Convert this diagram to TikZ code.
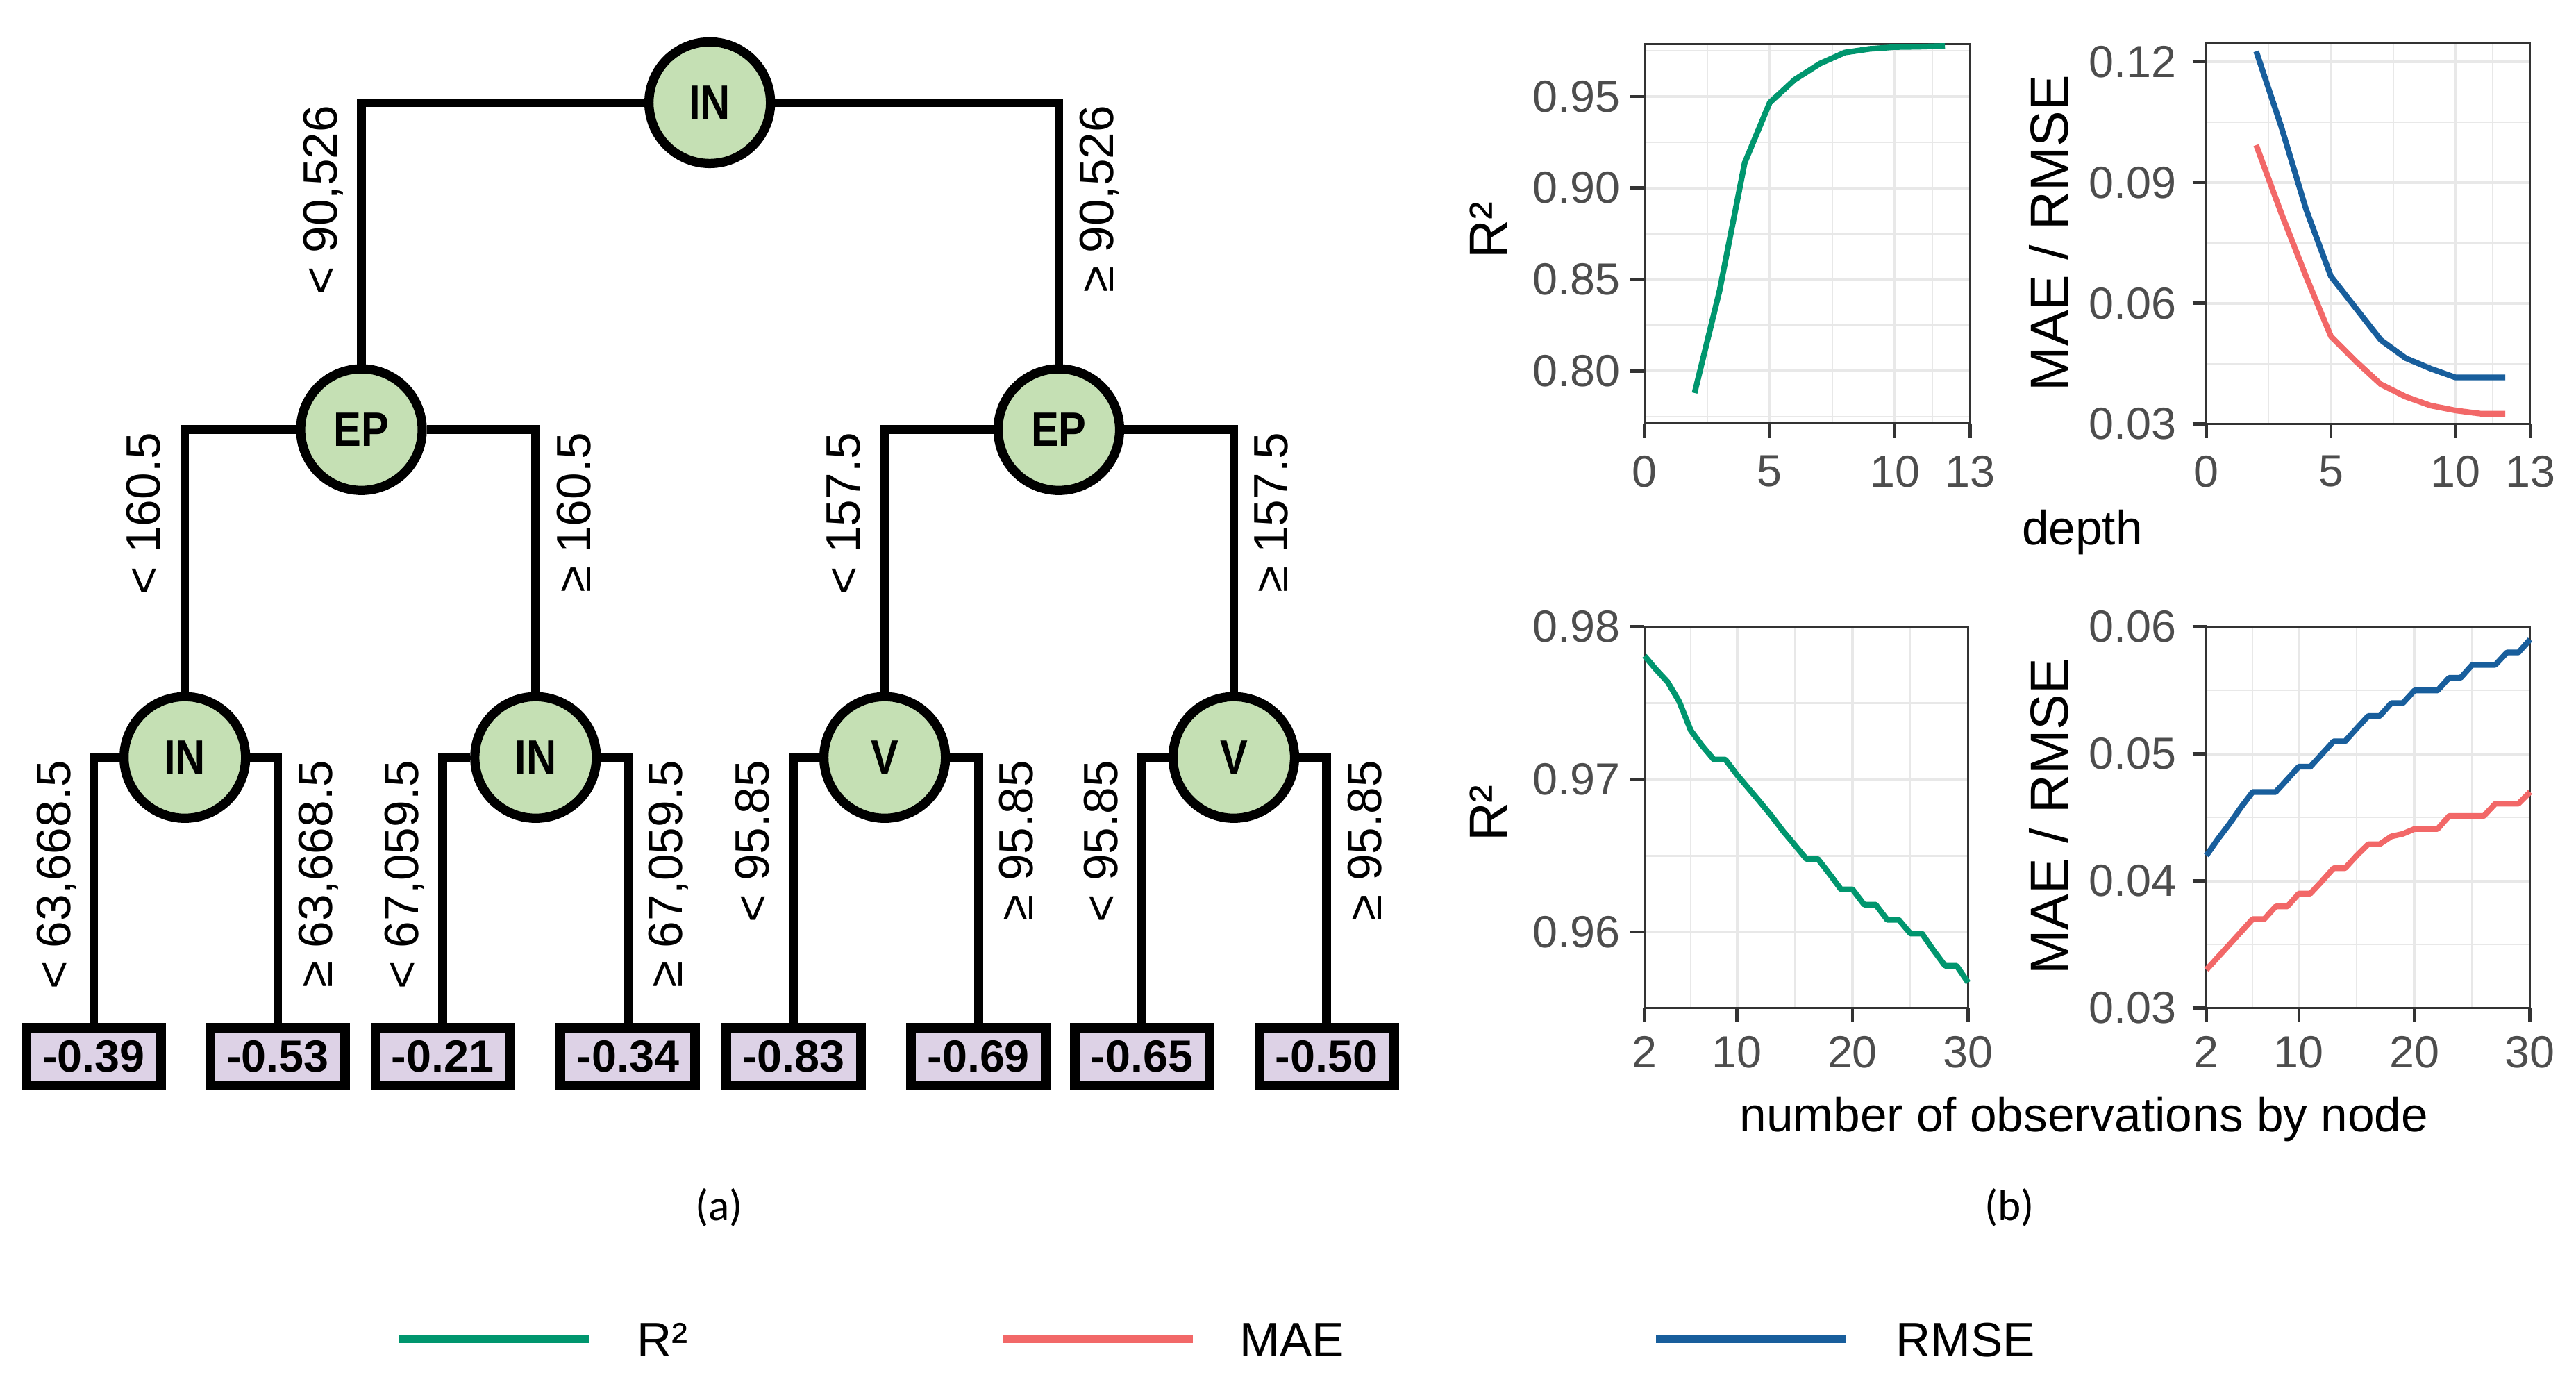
\documentclass[tikz,border=0pt]{standalone}
\usepackage{fontspec}
\setmainfont{Liberation Sans}
\newfontfamily\treefont[FakeStretch=0.86]{Liberation Sans}
\newfontfamily\capfont{Carlito}
\usepackage{tikz}

\definecolor{nodegreen}{RGB}{197,224,180}
\definecolor{leafpurple}{RGB}{221,210,230}
\definecolor{rsqgreen}{RGB}{0,150,110}
\definecolor{maered}{RGB}{242,104,104}
\definecolor{rmseblue}{RGB}{24,94,156}
\definecolor{gridgray}{RGB}{232,232,232}
\definecolor{axisgray}{RGB}{51,51,51}
\definecolor{ticktext}{RGB}{77,77,77}

\tikzset{
  split/.style={circle,draw=black,fill=nodegreen,line width=4.2pt,minimum size=55.5pt,inner sep=0pt,
    font=\treefont\bfseries\fontsize{22}{24}\selectfont},
  leaf/.style={rectangle,draw=black,fill=leafpurple,line width=4.5pt,minimum width=61.5pt,
    minimum height=26.25pt,inner sep=0pt,font=\bfseries\fontsize{20.5}{24}\selectfont},
  branch/.style={line width=4pt},
  cond/.style={inner sep=0pt,rotate=90,font=\fontsize{22}{24}\selectfont},
  gridmaj/.style={gridgray,line width=1.3pt},
  gridmin/.style={gridgray,line width=0.7pt},
  frame/.style={axisgray,line width=0.9pt},
  tick/.style={axisgray,line width=1.5pt},
  ticklbl/.style={inner sep=0pt,text=ticktext,font=\fontsize{20.5}{24}\selectfont},
  axttl/.style={inner sep=0pt,font=\fontsize{22}{24}\selectfont},
  yttl/.style={inner sep=0pt,rotate=90,anchor=base,font=\fontsize{24.5}{26}\selectfont},
  curve/.style={line width=2.6pt,line join=round},
  keyline/.style={line width=3.7pt},
  keylbl/.style={inner sep=0pt,anchor=base west,font=\fontsize{22}{24}\selectfont},
  panel/.style={inner sep=0pt,font=\capfont\fontsize{20}{24}\selectfont}
}

\begin{document}
\begin{tikzpicture}[x=0.75pt,y=0.75pt,yscale=-1,xscale=1]
%set diagram left start at 0, and has height of 842
\path[use as bounding box] (0,0) rectangle (1568,842);
\fill[white] (0,0) rectangle (1568,842);

%Shape: Circle (split nodes)
\node[split] (in0) at (432,62.5) {IN};
\node[split] (ep1) at (220,261.5) {EP};
\node[split] (ep2) at (644.5,261.5) {EP};
\node[split] (in1) at (112.5,461) {IN};
\node[split] (in2) at (326,461) {IN};
\node[split] (v1) at (538.5,461) {V};
\node[split] (v2) at (751,461) {V};

%Shape: Rectangle (leaves)
\node[leaf] (l1) at (57,643) {-0.39};
\node[leaf] (l2) at (169,643) {-0.53};
\node[leaf] (l3) at (269.5,643) {-0.21};
\node[leaf] (l4) at (382.2,643) {-0.34};
\node[leaf] (l5) at (483,643) {-0.83};
\node[leaf] (l6) at (595.6,643) {-0.69};
\node[leaf] (l7) at (695.1,643) {-0.65};
\node[leaf] (l8) at (807.5,643) {-0.50};

%Straight Lines
\draw[branch] (in0.west) -| (ep1.north);
\draw[branch] (in0.east) -| (ep2.north);
\draw[branch] (ep1.west) -| (in1.north);
\draw[branch] (ep1.east) -| (in2.north);
\draw[branch] (ep2.west) -| (v1.north);
\draw[branch] (ep2.east) -| (v2.north);
\draw[branch] (in1.west) -| (l1.north);
\draw[branch] (in1.east) -| (l2.north);
\draw[branch] (in2.west) -| (l3.north);
\draw[branch] (in2.east) -| (l4.north);
\draw[branch] (v1.west) -| (l5.north);
\draw[branch] (v1.east) -| (l6.north);
\draw[branch] (v2.west) -| (l7.north);
\draw[branch] (v2.east) -| (l8.north);

% Text Node
\node[cond,anchor=base east] (c1) at (205,64) {< 90,526};
\node[cond,anchor=north east] (c2) at (657,64) {≥ 90,526};
\node[cond,anchor=base east] (c3) at (97.5,263) {< 160.5};
\node[cond,anchor=north east] (c4) at (338.5,263) {≥ 160.5};
\node[cond,anchor=base east] (c5) at (523.5,263) {< 157.5};
\node[cond,anchor=north east] (c6) at (763.5,263) {≥ 157.5};
\node[cond,anchor=base east] (c7) at (43,462.5) {< 63,668.5};
\node[cond,anchor=north east] (c8) at (181.5,462.5) {≥ 63,668.5};
\node[cond,anchor=base east] (c9) at (254.5,462.5) {< 67,059.5};
\node[cond,anchor=north east] (c10) at (394.7,462.5) {≥ 67,059.5};
\node[cond,anchor=base east] (c11) at (468,462.5) {< 95.85};
\node[cond,anchor=north east] (c12) at (608.1,462.5) {≥ 95.85};
\node[cond,anchor=base east] (c13) at (680.1,462.5) {< 95.85};
\node[cond,anchor=north east] (c14) at (820,462.5) {≥ 95.85};

%Plot: R2 by depth
\begin{scope}[shift={(1001,1117)},xscale=15.24,yscale=-1114]
\foreach \d in {2.5,7.5,11.5} \draw[gridmin] (\d,0.7714) -- (\d,0.9785);
\foreach \v in {0.775,0.825,0.875,0.925,0.975} \draw[gridmin] (0,\v) -- (13,\v);
\foreach \d in {5,10} \draw[gridmaj] (\d,0.7714) -- (\d,0.9785);
\foreach \v in {0.80,0.85,0.90,0.95} \draw[gridmaj] (0,\v) -- (13,\v);
\draw[frame] (0,0.7714) rectangle (13,0.9785);
\draw[curve,rsqgreen] plot coordinates {(2,0.788) (3,0.844) (4,0.9137) (5,0.9466) (6,0.9592)
  (7,0.9679) (8,0.974) (9,0.976) (10,0.977) (11,0.9772) (12,0.9776)};
\end{scope}
\foreach \yy/\lab [count=\i] in {225.8/0.80,170.1/0.85,114.4/0.90,58.7/0.95}{
  \draw[tick] (992.5,\yy) -- (1001,\yy);
  \node[ticklbl,anchor=east] (tya\i) at (986.5,\yy) {\lab};}
\foreach \xx/\lab [count=\i] in {1001/0,1077.2/5,1153.4/10,1199.1/13}{
  \draw[tick] (\xx,257.7) -- (\xx,266.5);
  \node[ticklbl,anchor=north] (txa\i) at (\xx,277) {\lab};}
\node[yttl] (ya) at (917.3,140) {R²};

%Plot: MAE / RMSE by depth
\begin{scope}[shift={(1343,331.6)},xscale=15.16,yscale=-2450]
\foreach \d in {2.5,7.5,11.5} \draw[gridmin] (\d,0.03) -- (\d,0.12461);
\foreach \v in {0.045,0.075,0.105} \draw[gridmin] (0,\v) -- (13,\v);
\foreach \d in {5,10} \draw[gridmaj] (\d,0.03) -- (\d,0.12461);
\foreach \v in {0.06,0.09,0.12} \draw[gridmaj] (0,\v) -- (13,\v);
\draw[frame] (0,0.03) rectangle (13,0.12461);
\draw[curve,maered] plot coordinates {(2,0.0993) (3,0.0825) (4,0.0667) (5,0.0518) (6,0.0456)
  (7,0.0399) (8,0.0368) (9,0.0346) (10,0.0334) (11,0.0326) (12,0.0326)};
\draw[curve,rmseblue] plot coordinates {(2,0.1226) (3,0.104) (4,0.0834) (5,0.0667) (6,0.0588)
  (7,0.0509) (8,0.0464) (9,0.0438) (10,0.0416) (11,0.0416) (12,0.0416)};
\end{scope}
\foreach \yy/\lab [count=\i] in {258.1/0.03,184.6/0.06,111.1/0.09,37.6/0.12}{
  \draw[tick] (1334.5,\yy) -- (1343,\yy);
  \node[ticklbl,anchor=east] (tyb\i) at (1325,\yy) {\lab};}
\foreach \xx/\lab [count=\i] in {1343/0,1418.8/5,1494.6/10,1540.1/13}{
  \draw[tick] (\xx,258.1) -- (\xx,266.5);
  \node[ticklbl,anchor=north] (txb\i) at (\xx,277) {\lab};}
\node[yttl] (yb) at (1259,141.8) {MAE / RMSE};
\node[axttl,anchor=base] (xab) at (1267.5,331.5) {depth};

%Plot: R2 by number of observations
\begin{scope}[shift={(986.93,9485.6)},xscale=7.036,yscale=-9290]
\foreach \n in {6,15,25} \draw[gridmin] (\n,0.95503) -- (\n,0.98);
\foreach \v in {0.965,0.975} \draw[gridmin] (2,\v) -- (30,\v);
\foreach \n in {10,20} \draw[gridmaj] (\n,0.95503) -- (\n,0.98);
\foreach \v in {0.96,0.97} \draw[gridmaj] (2,\v) -- (30,\v);
\draw[frame] (2,0.95503) rectangle (30,0.98);
\draw[curve,rsqgreen] plot coordinates {(2,0.9781) (3,0.9772) (4,0.9764) (5,0.9751) (6,0.9732)
  (7,0.9722) (8,0.9713) (9,0.9713) (10,0.9703) (11,0.9694) (12,0.9685) (13,0.9676) (14,0.9666)
  (15,0.9657) (16,0.9648) (17,0.9648) (18,0.9638) (19,0.9628) (20,0.9628) (21,0.9618) (22,0.9618)
  (23,0.9608) (24,0.9608) (25,0.9599) (26,0.9599) (27,0.9588) (28,0.9578) (29,0.9578) (30,0.9567)};
\end{scope}
\foreach \yy/\lab [count=\i] in {567.2/0.96,474.3/0.97,381.4/0.98}{
  \draw[tick] (992.5,\yy) -- (1001,\yy);
  \node[ticklbl,anchor=east] (tyc\i) at (986.5,\yy) {\lab};}
\foreach \xx/\lab [count=\i] in {1001/2,1057.3/10,1127.6/20,1198/30}{
  \draw[tick] (\xx,613.4) -- (\xx,622);
  \node[ticklbl,anchor=north] (txc\i) at (\xx,630.5) {\lab};}
\node[yttl] (yc) at (917.3,495) {R²};

%Plot: MAE / RMSE by number of observations
\begin{scope}[shift={(1328.93,845.3)},xscale=7.036,yscale=-7730]
\foreach \n in {6,15,25} \draw[gridmin] (\n,0.03) -- (\n,0.06);
\foreach \v in {0.035,0.045,0.055} \draw[gridmin] (2,\v) -- (30,\v);
\foreach \n in {10,20} \draw[gridmaj] (\n,0.03) -- (\n,0.06);
\foreach \v in {0.04,0.05} \draw[gridmaj] (2,\v) -- (30,\v);
\draw[frame] (2,0.03) rectangle (30,0.06);
\draw[curve,maered] plot coordinates {(2,0.033) (3,0.034) (4,0.035) (5,0.036) (6,0.037)
  (7,0.037) (8,0.038) (9,0.038) (10,0.039) (11,0.039) (12,0.040) (13,0.041) (14,0.041)
  (15,0.042) (16,0.0429) (17,0.0429) (18,0.0435) (19,0.0437) (20,0.0441) (21,0.0441) (22,0.0441)
  (23,0.0451) (24,0.0451) (25,0.0451) (26,0.0451) (27,0.0461) (28,0.0461) (29,0.0461) (30,0.047)};
\draw[curve,rmseblue] plot coordinates {(2,0.042) (3,0.0433) (4,0.0445) (5,0.0458) (6,0.047)
  (7,0.047) (8,0.047) (9,0.048) (10,0.049) (11,0.049) (12,0.050) (13,0.051) (14,0.051)
  (15,0.052) (16,0.053) (17,0.053) (18,0.054) (19,0.054) (20,0.055) (21,0.055) (22,0.055)
  (23,0.056) (24,0.056) (25,0.057) (26,0.057) (27,0.057) (28,0.058) (29,0.058) (30,0.059)};
\end{scope}
\foreach \yy/\lab [count=\i] in {613.4/0.03,536.1/0.04,458.8/0.05,381.5/0.06}{
  \draw[tick] (1334.5,\yy) -- (1343,\yy);
  \node[ticklbl,anchor=east] (tyd\i) at (1325,\yy) {\lab};}
\foreach \xx/\lab [count=\i] in {1343/2,1399.3/10,1469.6/20,1540/30}{
  \draw[tick] (\xx,613.4) -- (\xx,622);
  \node[ticklbl,anchor=north] (txd\i) at (\xx,630.5) {\lab};}
\node[yttl] (yd) at (1259,497) {MAE / RMSE};
\node[axttl,anchor=base] (xcd) at (1268.5,688.5) {number of observations by node};

% Text Node (panel captions)
\node[panel] (capa) at (437.8,735) {(a)};
\node[panel] (capb) at (1223,735) {(b)};

%Legend
\coordinate (kg1) at (242.6,815); \coordinate (kg2) at (358.4,815);
\coordinate (kr1) at (610.6,815); \coordinate (kr2) at (726.3,815);
\coordinate (kb1) at (1008,815); \coordinate (kb2) at (1123.8,815);
\draw[keyline,rsqgreen] (kg1) -- (kg2);
\draw[keyline,maered] (kr1) -- (kr2);
\draw[keyline,rmseblue] (kb1) -- (kb2);
\node[keylbl] (kgl) at (387.6,825.5) {R²};
\node[keylbl] (krl) at (754.4,825.5) {MAE};
\node[keylbl] (kbl) at (1153.8,825.5) {RMSE};

\end{tikzpicture}
\end{document}
